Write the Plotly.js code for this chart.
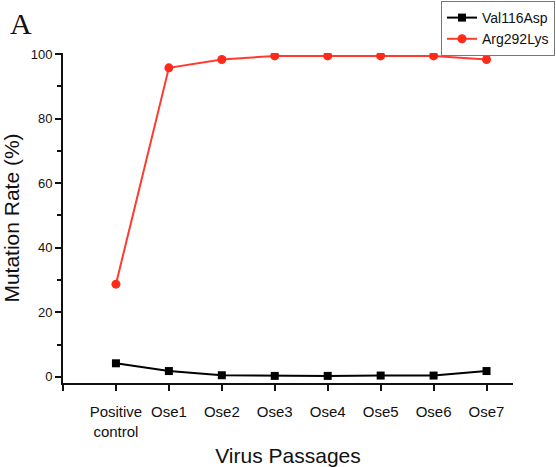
<!DOCTYPE html>
<html>
<head>
<meta charset="utf-8">
<script src="https://cdn.plot.ly/plotly-3.0.1.min.js"></script>
<style>html,body{margin:0;padding:0;background:#fff;}#chart{width:556px;height:467px;}</style>
</head>
<body>
<div id="chart"></div>
<script>
const categories = ["Positive<br>control", "Ose1", "Ose2", "Ose3", "Ose4", "Ose5", "Ose6", "Ose7"];
const positions = [0, 1, 2, 3, 4, 5, 6, 7];
const val116Asp = [4.2, 1.8, 0.5, 0.3, 0.3, 0.4, 0.4, 1.8];
const arg292Lys = [28.7, 95.7, 98.3, 99.4, 99.4, 99.4, 99.4, 98.3];
const seriesNames = ["Val116Asp", "Arg292Lys"];

const traces = [
  {x: positions, y: val116Asp, name: seriesNames[0], type: "scatter", mode: "lines+markers",
   line: {color: "#000000", width: 2}, marker: {symbol: "square", size: 8, color: "#000000"}},
  {x: positions, y: arg292Lys, name: seriesNames[1], type: "scatter", mode: "lines+markers",
   line: {color: "#ff3b2f", width: 2}, marker: {symbol: "circle", size: 9, color: "#ff2a1a"}}
];

const layout = {
  width: 556, height: 467,
  margin: {l: 63, r: 43, t: 53, b: 84, autoexpand: false},
  paper_bgcolor: "#ffffff", plot_bgcolor: "#ffffff",
  font: {family: "Liberation Sans, Arial, sans-serif", color: "#111"},
  showlegend: true,
  legend: {x: 555/556, y: 1 - 1/467, xref: "container", yref: "container", xanchor: "right", yanchor: "top",
    bordercolor: "#777", borderwidth: 1, bgcolor: "rgba(255,255,255,0)", font: {size: 14, color: "#111"},
    tracegroupgap: 0, itemwidth: 30},
  xaxis: {
    range: [-1, 7.5], tickvals: [-1].concat(positions), ticktext: [""].concat(categories),
    showgrid: false, zeroline: false, showline: true, linecolor: "#111", linewidth: 2,
    ticks: "outside", ticklen: 6, tickwidth: 2, tickcolor: "#111",
    tickfont: {size: 15, color: "#111"}, tickangle: 0, ticklabelstandoff: 8,
    title: {text: "Virus Passages", font: {size: 21, color: "#111"}, standoff: 14}
  },
  yaxis: {
    range: [-1.9, 100.3], tickvals: [0, 20, 40, 60, 80, 100],
    showgrid: false, zeroline: false, showline: true, linecolor: "#111", linewidth: 2,
    ticks: "outside", ticklen: 6, tickwidth: 2, tickcolor: "#111",
    minor: {tickvals: [10, 30, 50, 70, 90], ticks: "outside", ticklen: 4, tickwidth: 2, tickcolor: "#111"},
    tickfont: {size: 13, color: "#111"},
    title: {text: "Mutation Rate (%)", font: {size: 21, color: "#111"}, standoff: 8}
  },
  annotations: [
    {text: "A", xref: "paper", yref: "paper", x: -55/450, y: 1 + 30/330, xanchor: "left", yanchor: "middle",
     showarrow: false, font: {family: "Liberation Serif, Times New Roman, serif", size: 30, color: "#111"}}
  ]
};

Plotly.newPlot("chart", traces, layout, {displayModeBar: false, staticPlot: true});
</script>
</body>
</html>
